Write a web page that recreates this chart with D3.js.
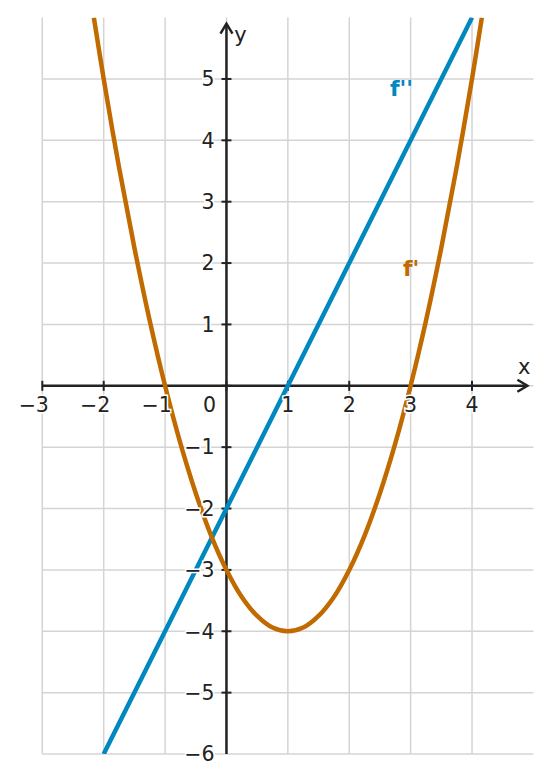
<!DOCTYPE html>
<html>
<head>
<meta charset="utf-8">
<script src="https://cdn.jsdelivr.net/npm/d3@7/dist/d3.min.js"></script>
<style>
html,body{margin:0;padding:0;background:#fff;}
svg{display:block;font-family:"DejaVu Sans",sans-serif;}
</style>
</head>
<body>
<svg id="chart" width="551" height="783"></svg>
<script>
// Data
const xTicks = [-3, -2, -1, 0, 1, 2, 3, 4];
const yTicks = [-6, -5, -4, -3, -2, -1, 0, 1, 2, 3, 4, 5];
const xTickLabels = ["−3", "−2", "−1", "0", "1", "2", "3", "4"];
const yTickLabels = ["−6", "−5", "−4", "−3", "−2", "−1", "", "1", "2", "3", "4", "5"];
const fPrimeX = [-2.16, -2, -1.75, -1.5, -1.25, -1, -0.75, -0.5, -0.25, 0, 0.25, 0.5, 0.75, 1,
                 1.25, 1.5, 1.75, 2, 2.25, 2.5, 2.75, 3, 3.25, 3.5, 3.75, 4, 4.16];
const fPrimeY = [6, 5, 3.56, 2.25, 1.06, 0, -0.94, -1.75, -2.44, -3, -3.44, -3.75, -3.94, -4,
                 -3.94, -3.75, -3.44, -3, -2.44, -1.75, -0.94, 0, 1.06, 2.25, 3.56, 5, 6];
const fDoubleX = [-2, 0, 1, 4];
const fDoubleY = [-6, -2, 0, 6];
const seriesNames = ["f'", "f''"];

const svg = d3.select("#chart");
const x = d3.scaleLinear().domain([-3, 5]).range([42.3, 533.4]);
const y = d3.scaleLinear().domain([-6, 6]).range([754, 17.6]);

const orange = "#c06a00";
const blue = "#0088bf";
const axisCol = "#222";
const gridCol = "#d4d4d4";

// grid
const g = svg.append("g");
g.selectAll(".vg").data(xTicks).join("line")
  .attr("x1", d => x(d)).attr("x2", d => x(d))
  .attr("y1", y(6)).attr("y2", y(-6))
  .attr("stroke", gridCol).attr("stroke-width", 1.5);
g.selectAll(".hg").data(yTicks).join("line")
  .attr("x1", x(-3)).attr("x2", x(5))
  .attr("y1", d => y(d)).attr("y2", d => y(d))
  .attr("stroke", gridCol).attr("stroke-width", 1.5);

// axes
const ax = svg.append("g");
ax.append("line").attr("x1", x(-3)).attr("x2", x(5) - 8).attr("y1", y(0)).attr("y2", y(0))
  .attr("stroke", axisCol).attr("stroke-width", 2.5);
ax.append("line").attr("x1", x(0)).attr("x2", x(0)).attr("y1", y(-6)).attr("y2", y(6) + 7)
  .attr("stroke", axisCol).attr("stroke-width", 2.5);
const ax0 = x(5) - 6, ay0 = y(0);
ax.append("path").attr("d", `M${ax0-10},${ay0-6} L${ax0},${ay0} L${ax0-10},${ay0+6}`)
  .attr("fill", "none").attr("stroke", axisCol).attr("stroke-width", 2.5);
const bx0 = x(0), by0 = y(6) + 6;
ax.append("path").attr("d", `M${bx0-6},${by0+10} L${bx0},${by0} L${bx0+6},${by0+10}`)
  .attr("fill", "none").attr("stroke", axisCol).attr("stroke-width", 2.5);
ax.selectAll(".xt").data(xTicks).join("line")
  .attr("x1", d => x(d)).attr("x2", d => x(d))
  .attr("y1", y(0) - 5).attr("y2", y(0) + 5)
  .attr("stroke", axisCol).attr("stroke-width", 2);
ax.selectAll(".yt").data(yTicks.filter(d => d !== -6)).join("line")
  .attr("x1", x(0) - 5).attr("x2", x(0) + 5)
  .attr("y1", d => y(d)).attr("y2", d => y(d))
  .attr("stroke", axisCol).attr("stroke-width", 2);

// curves
const pts1 = fPrimeX.map((v, i) => [v, fPrimeY[i]]);
const pts2 = fDoubleX.map((v, i) => [v, fDoubleY[i]]);
svg.append("clipPath").attr("id", "clip").append("rect")
  .attr("x", x(-3)).attr("y", y(6)).attr("width", x(5) - x(-3)).attr("height", y(-6) - y(6));
const cg = svg.append("g").attr("clip-path", "url(#clip)");
cg.append("path").datum(pts2)
  .attr("d", d3.line().x(d => x(d[0])).y(d => y(d[1])))
  .attr("fill", "none").attr("stroke", blue).attr("stroke-width", 4.5);
cg.append("path").datum(pts1)
  .attr("d", d3.line().x(d => x(d[0])).y(d => y(d[1])).curve(d3.curveCatmullRom.alpha(0.5)))
  .attr("fill", "none").attr("stroke", orange).attr("stroke-width", 4.5);

// tick labels with halo
function styleLabel(sel) {
  sel.style("font-size", "20.5px").style("fill", "#222")
    .style("stroke", "#fff").style("stroke-width", "3px").style("paint-order", "stroke");
}
svg.selectAll(".xl").data(xTicks).join("text").attr("class", "xl")
  .attr("x", d => d === 0 ? x(0) - 17 : (d < 0 ? x(d) - 8.5 : x(d)))
  .attr("y", y(0) + 26)
  .attr("text-anchor", "middle")
  .call(styleLabel)
  .text((d, i) => xTickLabels[i]);
svg.selectAll(".yl").data(yTicks).join("text").attr("class", "yl")
  .attr("x", x(0) - 12)
  .attr("y", d => y(d) + 7.3)
  .attr("text-anchor", "end")
  .call(styleLabel)
  .text((d, i) => yTickLabels[i]);

// axis names
svg.append("text").attr("x", x(4.85)).attr("y", y(0) - 12).style("font-size", "21px").style("fill", "#222")
  .attr("text-anchor", "middle").text("x");
svg.append("text").attr("x", x(0) + 14).attr("y", y(5.6)).style("font-size", "21px").style("fill", "#222")
  .attr("text-anchor", "middle").text("y");

// series labels
svg.append("text").attr("x", 390).attr("y", 96).style("font-size", "22px").style("font-weight", "bold")
  .style("fill", blue).text(seriesNames[1]);
svg.append("text").attr("x", 403).attr("y", 276).style("font-size", "22px").style("font-weight", "bold")
  .style("fill", orange).text(seriesNames[0]);
</script>
</body>
</html>
